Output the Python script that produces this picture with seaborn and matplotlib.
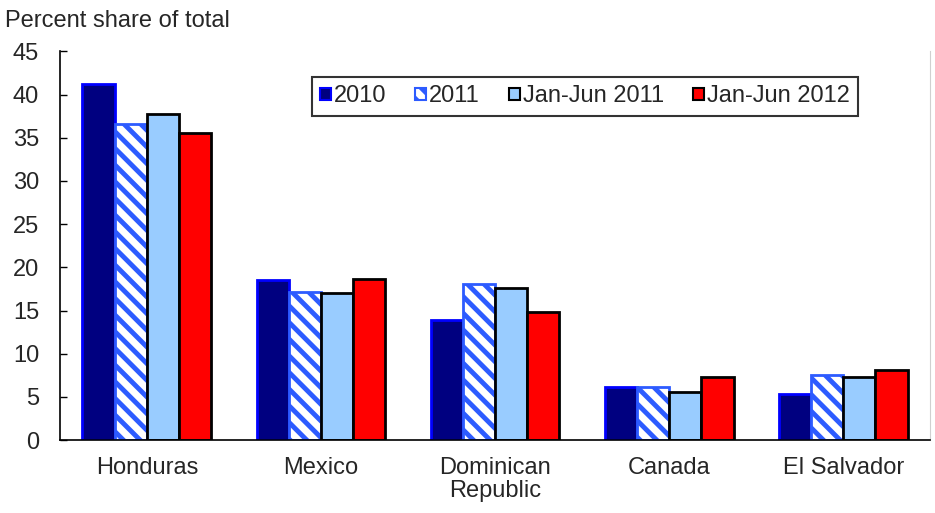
import pandas as pd
import numpy as np
import matplotlib
matplotlib.use('Agg')
import matplotlib.pyplot as plt
from matplotlib.patches import Patch
import seaborn as sns

countries = ['Honduras', 'Mexico', 'Dominican\nRepublic', 'Canada', 'El Salvador']
periods = ['2010', '2011', 'Jan-Jun 2011', 'Jan-Jun 2012']
v2010 = [41.2, 18.5, 13.9, 6.1, 5.3]
v2011 = [36.6, 17.2, 18.1, 6.1, 7.5]
vh2011 = [37.7, 17.0, 17.6, 5.6, 7.3]
vh2012 = [35.5, 18.6, 14.8, 7.3, 8.1]

df = pd.DataFrame({'country': countries * 4,
                   'period': np.repeat(periods, len(countries)),
                   'share': v2010 + v2011 + vh2011 + vh2012})

sns.set_style('white')
plt.rcParams['font.family'] = ['Liberation Sans', 'DejaVu Sans']
plt.rcParams['hatch.linewidth'] = 3.5

fills = ['#000080', '#ffffff', '#99ccff', '#ff0000']
edges = ['#0000ff', '#2d5bff', '#000000', '#000000']
hatches = [None, '\\\\', None, None]
fs = 17

fig = plt.figure(figsize=(9.35, 5.13), dpi=100)
ax = fig.add_axes([0.064, 0.142, 0.931, 0.758])
sns.barplot(data=df, x='country', y='share', hue='period', palette=fills,
            width=0.74, saturation=1, ax=ax, legend=False)

# seaborn gives one container per hue level: restyle edges / hatch
for i, cont in enumerate(ax.containers):
    for p in cont.patches:
        p.set_facecolor(fills[i])
        p.set_edgecolor(edges[i])
        p.set_linewidth(2)
        if hatches[i]:
            p.set_hatch(hatches[i])

ax.set_ylim(0, 45)
ax.set_yticks(range(0, 46, 5))
ax.set_xlim(-0.5, 4.5)
ax.set_xticks(np.arange(0, 5))
ax.set_xticklabels(countries, linespacing=1.05)
ax.set_xticks(np.arange(-0.5, 5, 1), minor=True)
ax.tick_params(axis='x', which='major', length=0, labelsize=fs, pad=12)
ax.tick_params(axis='x', which='minor', direction='in', length=5, width=1, color='black')
ax.tick_params(axis='y', direction='in', length=5, width=1, color='black', labelsize=fs,
               left=True, pad=15)
ax.set_xlabel('')
ax.set_ylabel('')
for s in ['left', 'bottom']:
    ax.spines[s].set_color('black')
    ax.spines[s].set_linewidth(1.2)
ax.spines['top'].set_visible(False)
ax.spines['right'].set_color('#d0d0d0')

handles = [Patch(facecolor=fills[i], edgecolor=edges[i], hatch=hatches[i], linewidth=1.5)
           for i in range(len(periods))]
leg = ax.legend(handles, periods, loc='center', bbox_to_anchor=(0.603, 0.884), ncol=4,
                fontsize=fs, frameon=True, fancybox=False, edgecolor='black',
                handlelength=0.45, handleheight=0.45, handletextpad=0.12, columnspacing=1.25,
                borderpad=0.35)
leg.get_frame().set_linewidth(1.5)

fig.text(0.005, 0.96, 'Percent share of total', fontsize=fs, ha='left', va='center')

fig.savefig('out.png', dpi=100)
